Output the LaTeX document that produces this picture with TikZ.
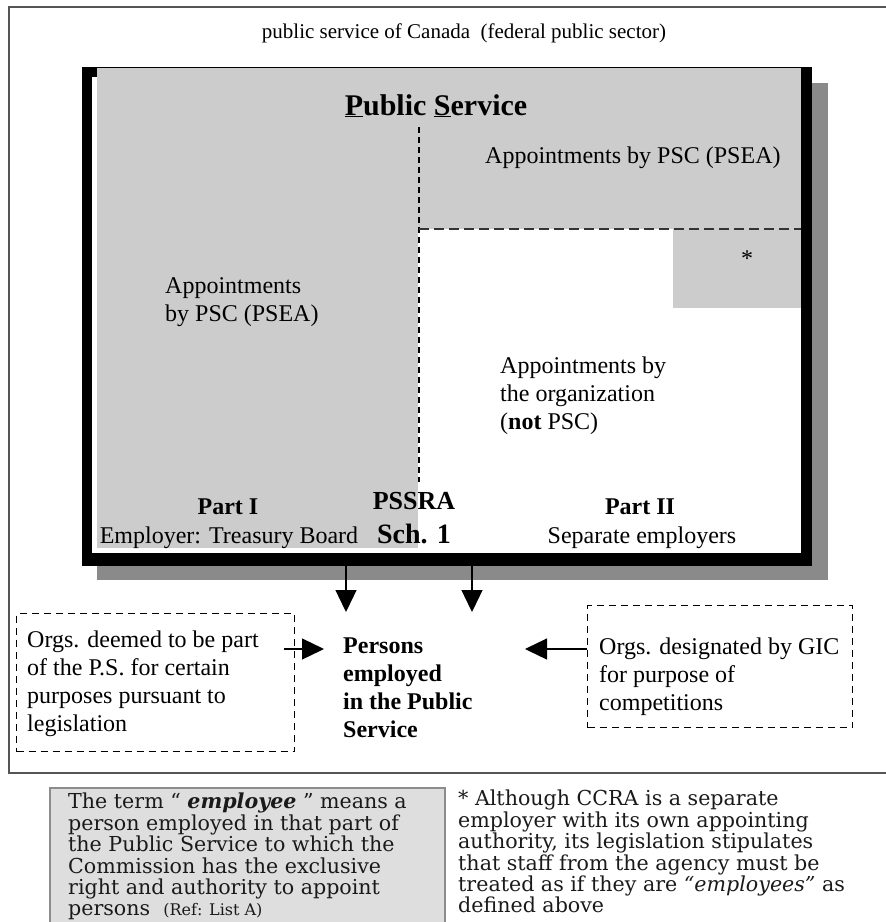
\documentclass[tikz,border=0pt]{standalone}
\usepackage{fontspec}
\setmainfont{Liberation Serif}
\newfontfamily\notefont{DejaVu Serif}
\usetikzlibrary{arrows.meta,calc}
\definecolor{panel}{HTML}{CCCCCC}
\definecolor{shadowgrey}{HTML}{8A8A8A}
\definecolor{notefill}{HTML}{DEDEDE}
\definecolor{noteline}{HTML}{8C8C8C}
\definecolor{frameline}{HTML}{555555}
\definecolor{notetext}{HTML}{1A1A1A}
\begin{document}
\begin{tikzpicture}[x=1pt,y=-1pt,
  txt/.style={inner sep=0pt, font=\fontsize{24}{28}\selectfont},
  btxt/.style={inner sep=0pt, font=\fontsize{24}{28}\selectfont\bfseries},
  notetxt/.style={inner sep=0pt, align=left, text=notetext, font=\notefont\fontsize{20.6}{21.4}\selectfont},
  dbox/.style={draw, dash pattern=on 7pt off 5pt, line width=1.2pt, inner sep=0pt, anchor=north west},
  divider/.style={line width=1.2pt, dash pattern=on 6pt off 4pt},
  arr/.style={line width=1.3pt, -{Triangle[length=22pt,width=21pt]}},
]
\useasboundingbox (0,0) rectangle (886,922);

% outer frame of the federal public sector
\draw[frameline, line width=2pt] (9,7) rectangle (900,773);
\node[inner sep=0pt, font=\fontsize{21}{24}\selectfont, anchor=base] (title) at (464,38)
  {public service of Canada \ (federal public sector)};

% Public Service box: drop shadow, panels, heavy border
\fill[shadowgrey] (97,83) rectangle (828,580);
\fill[white] (82,67) rectangle (812,566);
\fill[panel] (97,68) rectangle (418,548);
\fill[panel] (97,68) rectangle (801,229);
\fill[panel] (673,229) rectangle (801,308);
\fill[black] (82,67) rectangle (92,566);
\fill[black] (82,67) rectangle (97,77);
\fill[black] (801,67) rectangle (812,566);
\fill[black] (82,553) rectangle (812,566);
\draw[line width=1.5pt] (82,67.5) -- (812,67.5);
\node[inner sep=0pt, minimum width=730pt, minimum height=499pt, anchor=north west] (psbox) at (82,67) {};

\draw[divider] (419,127) -- (419,482);
\draw[divider, dash pattern=on 10pt off 5pt, black!80] (419,229) -- (801,229);

\node[inner sep=0pt, font=\fontsize{30}{34}\selectfont\bfseries, anchor=base] (pstitle) at (436,115)
  {\underline{P}ublic \underline{S}ervice};
\node[txt, anchor=base west] (pscTop) at (485,163) {Appointments by PSC (PSEA)};
\node[txt, anchor=base] (star) at (747,266) {*};
\node[txt, anchor=north west, align=left] (pscLeft) at (165,277)
  {Appointments\\by PSC (PSEA)};
\node[txt, anchor=north west, align=left] (orgAppt) at (500,357)
  {Appointments by\\the organization\\(\textbf{not} PSC)};

\node[btxt, anchor=base] (part1) at (228,514) {Part I};
\node[txt, anchor=base] (tb) at (229,543) {Employer: Treasury Board};
\node[inner sep=0pt, font=\fontsize{26}{30}\selectfont\bfseries, anchor=base] (pssra) at (414,509) {PSSRA};
\node[inner sep=0pt, font=\fontsize{28}{32}\selectfont\bfseries, anchor=base] (sch) at (414,543) {Sch. 1};
\node[btxt, anchor=base] (part2) at (640,514) {Part II};
\node[txt, anchor=base] (sep) at (642,543) {Separate employers};

% persons employed and the bodies feeding into it
\node[dbox, minimum width=278pt, minimum height=138pt] (lbox) at (16,613) {};
\node[txt, anchor=north west, align=left] (ltext) at (27,631)
  {Orgs. deemed to be part\\of the P.S. for certain\\purposes pursuant to\\legislation};
\node[dbox, minimum width=265pt, minimum height=122pt] (rbox) at (587,605) {};
\node[txt, anchor=north west, align=left] (rtext) at (599,638)
  {Orgs. designated by GIC\\for purpose of\\competitions};
\node[btxt, anchor=north west, align=left] (persons) at (343,638)
  {Persons\\employed\\in the Public\\Service};

\coordinate (tipA) at (346,612);
\coordinate (tipB) at (472,612);
\coordinate (tipL) at (324,649);
\coordinate (tipR) at (525,649);
\draw[arr] (psbox.south -| tipA) -- (tipA);
\draw[arr] (psbox.south -| tipB) -- (tipB);
\draw[arr] ($(lbox.east |- tipL)+(-11,0)$) -- (tipL);
\draw[arr] (rbox.west |- tipR) -- (tipR);

% notes under the frame
\draw[noteline, fill=notefill, line width=2pt] (50,788) rectangle (445,940);
\node[notetxt, anchor=north west] (defn) at (68,793)
  {The term \textquotedblleft\ \textbf{\textit{employee}} \textquotedblright\ means a\\
   person employed in that part of\\
   the Public Service to which the\\
   Commission has the exclusive\\
   right and authority to appoint\\
   persons \ {\fontsize{16}{18}\selectfont (Ref: List A)}};
\node[notetxt, anchor=north west] (ccra) at (458,790)
  {* Although CCRA is a separate\\
   employer with its own appointing\\
   authority, its legislation stipulates\\
   that staff from the agency must be\\
   treated as if they are \textit{\textquotedblleft employees\textquotedblright} as\\
   defined above};
\end{tikzpicture}
\end{document}
